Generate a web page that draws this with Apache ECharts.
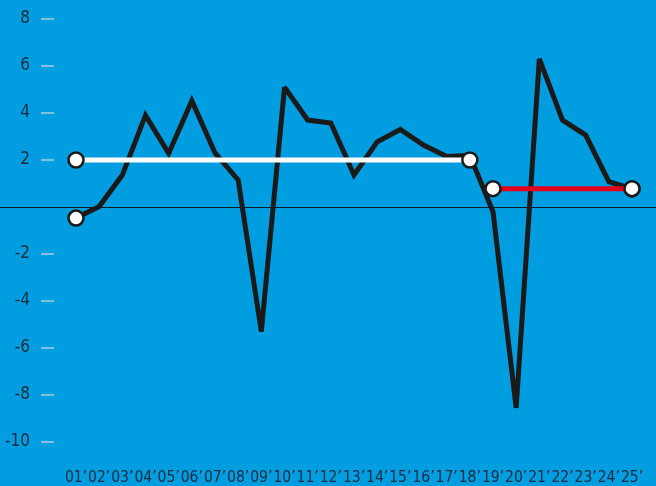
<!DOCTYPE html>
<html>
<head>
<meta charset="utf-8">
<script src="https://cdn.jsdelivr.net/npm/echarts@6/dist/echarts.min.js"></script>
<style>
  html, body { margin: 0; padding: 0; background: #009ee0; }
  #chart { width: 656px; height: 486px; }
</style>
</head>
<body>
<div id="chart"></div>
<script>
// year labels 01'..25'
var years = ['01’', '02’', '03’', '04’', '05’', '06’', '07’', '08’', '09’', '10’', '11’', '12’', '13’',
  '14’', '15’', '16’', '17’', '18’', '19’', '20’', '21’', '22’', '23’', '24’', '25’']
var growth = [-0.47, 0.02, 1.36, 3.9, 2.28, 4.52, 2.3, 1.15, -5.3, 5.1, 3.7, 3.57, 1.36,
  2.77, 3.3, 2.64, 2.15, 2.2, -0.2, -8.55, 6.3, 3.7, 3.06, 1.08, 0.77]
// averages: 01-18 and 19-25
var avgFirst = 2.0
var avgSecond = 0.78
var yTicks = [-10, -8, -6, -4, -2, 2, 4, 6, 8]

var font = '"Liberation Sans Narrow", "DejaVu Sans Condensed", sans-serif'
var ink = '#1a1a1a'

var xs = years.map(function (y, i) { return i + 1 })
var mainData = growth.map(function (v, i) {
  var edge = (i === 0 || i === growth.length - 1)
  return { value: [i + 1, v], symbol: edge ? 'circle' : 'none' }
})
var marker = { color: '#fff', borderColor: ink, borderWidth: 2.5 }

var myChart = echarts.init(document.getElementById('chart'))
var option = {
  backgroundColor: '#009ee0',
  animation: false,
  grid: { left: 0, right: 0, top: 19, bottom: 44 },
  xAxis: {
    type: 'value',
    min: -2.2806,
    max: 26.036,
    axisLine: { show: false },
    axisTick: { show: false },
    splitLine: { show: false },
    axisLabel: {
      customValues: xs,
      showMinLabel: true,
      showMaxLabel: true,
      hideOverlap: false,
      margin: 28,
      fontFamily: font,
      fontSize: 15.5,
      color: '#1b2b3b',
      formatter: function (v) { return years[Math.round(v) - 1] || '' }
    }
  },
  yAxis: {
    type: 'value',
    min: -10,
    max: 8,
    interval: 2,
    offset: -54,
    axisLine: { show: false },
    splitLine: { show: false },
    axisTick: { show: true, customValues: yTicks, length: 13, lineStyle: { color: '#a9cbe2', width: 1.5 } },
    axisLabel: {
      customValues: yTicks,
      margin: 24,
      fontFamily: font,
      fontSize: 17,
      color: '#1b2b3b'
    }
  },
  series: [
    {
      type: 'line',
      data: mainData,
      symbolSize: 15,
      itemStyle: marker,
      lineStyle: { color: ink, width: 5, join: 'miter', miterLimit: 2.5 },
      z: 3,
      markLine: {
        silent: true,
        symbol: 'none',
        label: { show: false },
        lineStyle: { color: '#0a1a24', width: 1, type: 'solid' },
        data: [{ yAxis: 0 }]
      }
    },
    {
      type: 'line',
      data: [[1, avgFirst], [18, avgFirst]],
      symbol: 'circle',
      symbolSize: 15,
      itemStyle: marker,
      lineStyle: { color: '#ffffff', width: 5 },
      z: 4
    },
    {
      type: 'line',
      data: [[19, avgSecond], [25, avgSecond]],
      symbol: 'circle',
      symbolSize: 15,
      itemStyle: marker,
      lineStyle: { color: '#e2001a', width: 5 },
      z: 4
    }
  ]
}
myChart.setOption(option)
</script>
</body>
</html>
